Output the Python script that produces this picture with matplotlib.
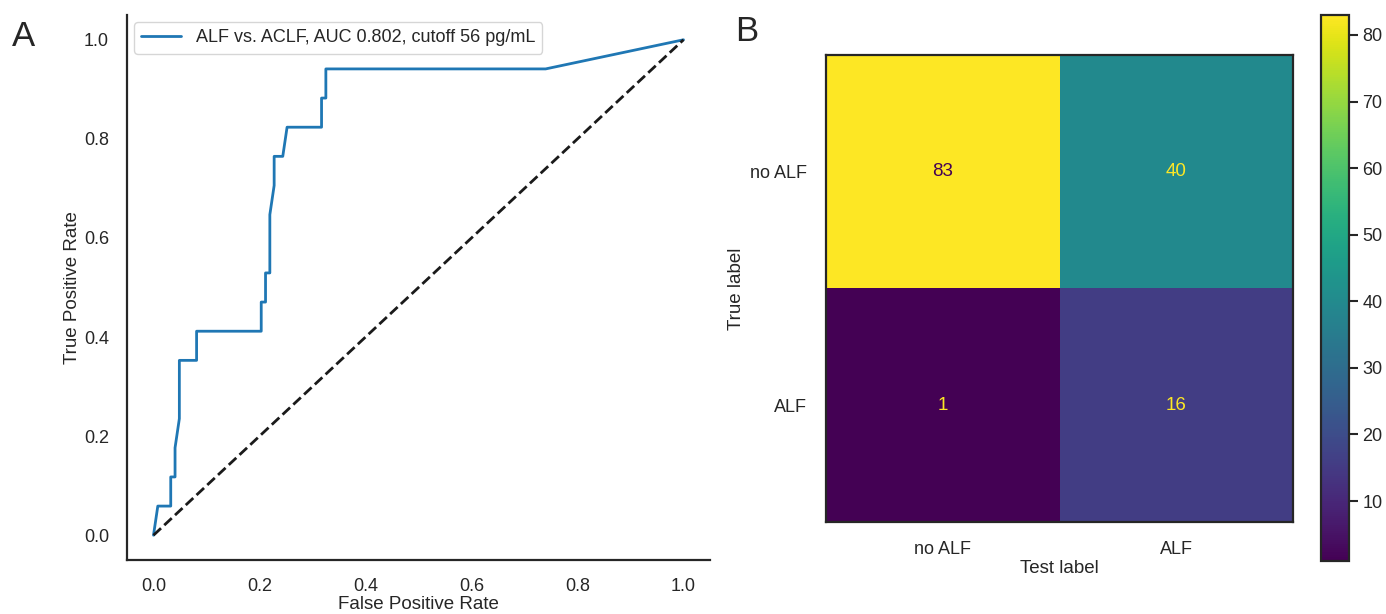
import numpy as np
import matplotlib
matplotlib.use("Agg")
import matplotlib.pyplot as plt
import seaborn as sns

# ROC curve, read off the picture as counts (123 no-ALF, 17 ALF)
n_neg = 123
n_pos = 17
fp_counts = [0, 1, 4, 4, 5, 5, 6, 6, 10, 10, 25, 25, 26, 26, 27, 27, 28, 28, 30, 31, 39, 39, 40, 40, 91, 123]
tp_counts = [0, 1, 1, 2, 2, 3, 4, 6, 6, 7, 7, 8, 8, 9, 9, 11, 12, 13, 13, 14, 14, 15, 15, 16, 16, 17]
roc_label = "ALF vs. ACLF, AUC 0.802, cutoff 56 pg/mL"

# confusion matrix
class_names = ["no ALF", "ALF"]
cm = [[83, 40],
      [1, 16]]

sns.set_theme(style="white")
plt.rcParams["font.family"] = ["Liberation Sans", "DejaVu Sans"]
text_col = ".15"


def main():
    fpr = np.array(fp_counts) / n_neg
    tpr = np.array(tp_counts) / n_pos

    fig = plt.figure(figsize=(13.86, 6.14), dpi=100)
    W, H = 1386, 614

    # panel A
    ax1 = fig.add_axes([127 / W, 54 / H, 583 / W, 545 / H])
    ax1.plot(fpr, tpr, color="#1f77b4", lw=2, label=roc_label)
    ax1.plot([0, 1], [0, 1], "k--", lw=2)
    ax1.set_xlabel("False Positive Rate", fontsize=13.5, labelpad=1)
    ax1.set_ylabel("True Positive Rate", fontsize=13.5, labelpad=2)
    ax1.tick_params(labelsize=13, pad=7)
    ax1.legend(loc="upper left", fontsize=13, frameon=True, borderaxespad=0.4,
               handlelength=2.2)
    sns.despine(ax=ax1)
    for s in ax1.spines.values():
        s.set_linewidth(1.6)
        s.set_color(text_col)

    # panel B
    ax2 = fig.add_axes([826 / W, 92 / H, 467 / W, 467 / H])
    cm_arr = np.array(cm)
    im = ax2.imshow(cm_arr, cmap="viridis", aspect="auto")
    cmap = im.cmap
    thresh = (cm_arr.max() + cm_arr.min()) / 2.0
    for i in range(cm_arr.shape[0]):
        for j in range(cm_arr.shape[1]):
            col = cmap(0.0) if cm_arr[i, j] >= thresh else cmap(1.0)
            ax2.text(j, i, str(cm_arr[i, j]), ha="center", va="center",
                     color=col, fontsize=13.5)
    ax2.set_xticks(range(len(class_names)))
    ax2.set_xticklabels(class_names)
    ax2.set_yticks(range(len(class_names)))
    ax2.set_yticklabels(class_names)
    ax2.tick_params(labelsize=13, pad=8)
    ax2.set_xlabel("Test label", fontsize=13.5, labelpad=1)
    ax2.set_ylabel("True label", fontsize=13.5, labelpad=3)
    for s in ax2.spines.values():
        s.set_linewidth(1.6)
        s.set_color(text_col)

    cax = fig.add_axes([1321 / W, 53 / H, 28 / W, 546 / H])
    cb = fig.colorbar(im, cax=cax)
    cb.outline.set_linewidth(1.6)
    cb.outline.set_edgecolor(text_col)
    cb.set_ticks([10, 20, 30, 40, 50, 60, 70, 80])
    cax.tick_params(labelsize=13, length=6.5, width=1.5, color=text_col, pad=3)

    fig.text(12 / W, 1 - 46 / H, "A", fontsize=25, color=text_col, va="baseline")
    fig.text(735 / W, 1 - 41 / H, "B", fontsize=25, color=text_col, va="baseline")

    fig.savefig("out.png", dpi=100)


if __name__ == "__main__":
    main()
